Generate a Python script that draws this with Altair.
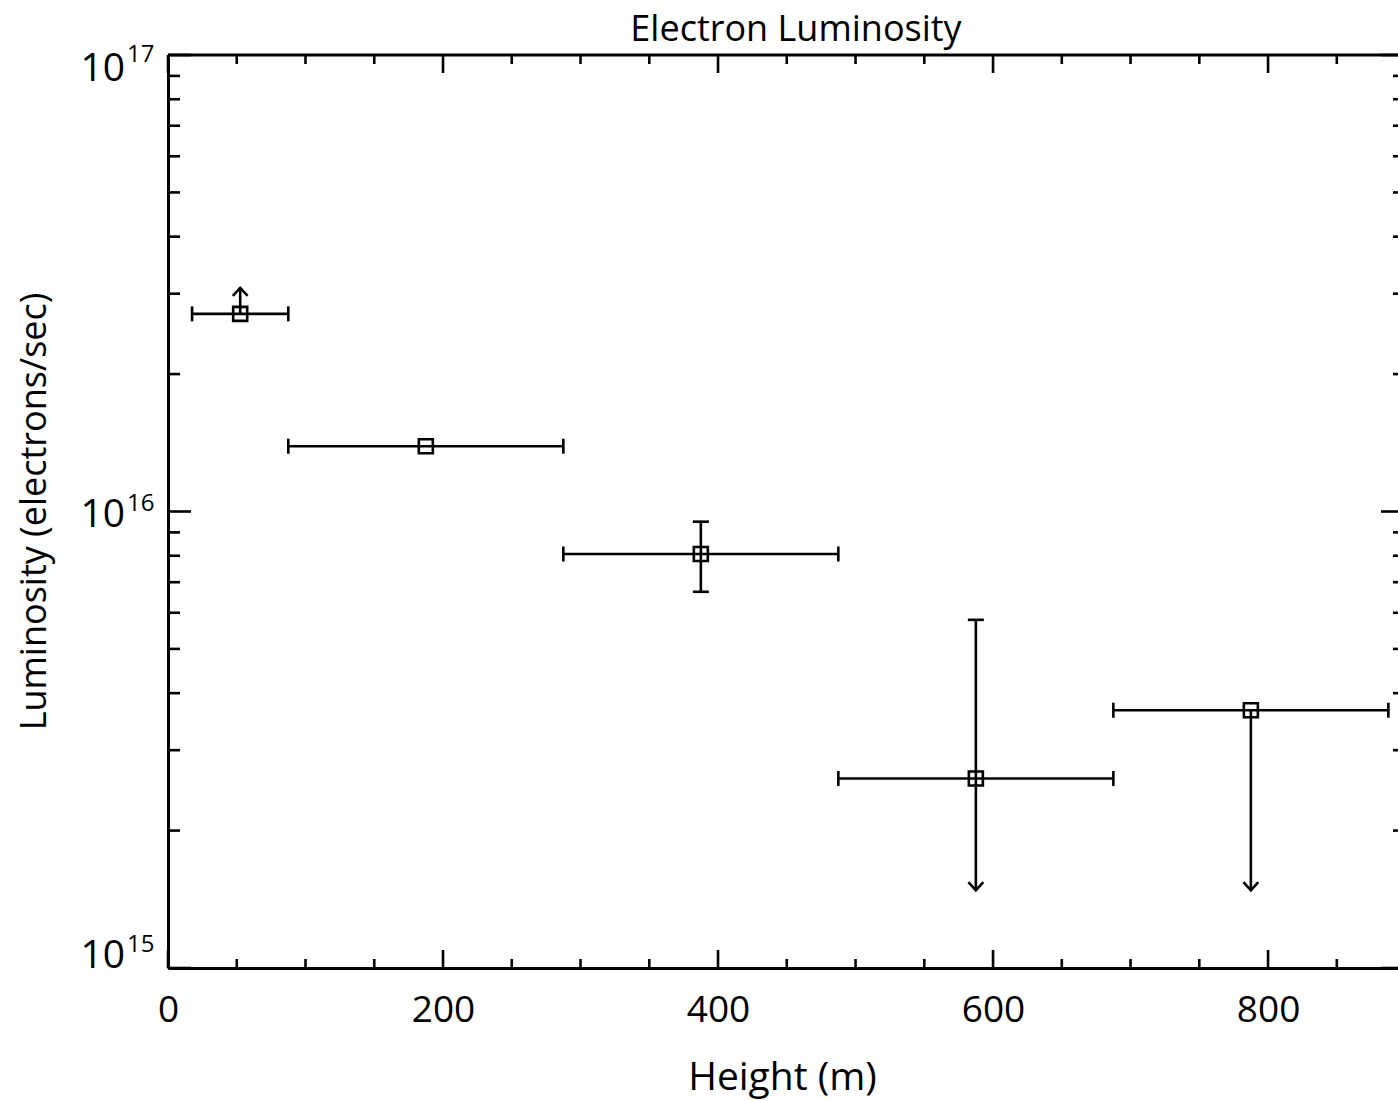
import altair as alt
import pandas as pd

# ---------------- data ----------------
chart_title = "Electron Luminosity"
x_title = "Height (m)"
y_title = "Luminosity (electrons/sec)"

height_m = [52.5, 187.5, 387.5, 587.5, 787.5]
height_lo = [17.5, 87.5, 287.5, 487.5, 687.5]
height_hi = [87.5, 287.5, 487.5, 687.5, 887.5]
lum = [2.71e16, 1.39e16, 8.07e15, 2.60e15, 3.67e15]
lum_lo = [2.71e16, 1.39e16, 6.67e15, 1.48e15, 1.48e15]
lum_hi = [3.09e16, 1.39e16, 9.50e15, 5.79e15, 3.67e15]
lower_limit = [True, False, False, False, False]   # arrow pointing up
upper_limit = [False, False, False, True, True]    # arrow pointing down

x_major = [0, 200, 400, 600, 800]
x_minor = [50, 100, 150, 250, 300, 350, 450, 500, 550, 650, 700, 750, 850]
y_major = [1e15, 1e16, 1e17]
y_base = ["10", "10", "10"]
y_exp = ["15", "16", "17"]
y_minor = [m * 1e15 for m in range(2, 10)] + [m * 1e16 for m in range(2, 10)]

# ---------------- layout / style ----------------
W, H = 1230, 913
FONT = "Open Sans"
LW = 2.6

xs = alt.Scale(domain=[0, 894.5], nice=False, zero=False)
ys = alt.Scale(type="log", domain=[1e15, 1e17], nice=False)

xax = alt.Axis(values=x_major, title=x_title, ticks=False, tickSize=0, grid=False,
               labelFontSize=37, labelFont=FONT, labelColor="black", labelPadding=24,
               labelFlush=False, domain=True, domainColor="black", domainWidth=3,
               titleFont=FONT, titleFontSize=39, titleFontWeight="normal", titleColor="black",
               titleX=614, titleY=121, titleBaseline="alphabetic", titleAlign="center")
yax = alt.Axis(values=y_major, title=y_title, ticks=False, tickSize=0, grid=False,
               labels=False, domain=True, domainColor="black", domainWidth=3,
               titleFont=FONT, titleFontSize=36, titleFontWeight="normal", titleColor="black",
               titleX=-123, titleY=456, titleBaseline="alphabetic", titleAlign="center",
               titleAngle=270)

pts = pd.DataFrame({"h": height_m, "h_lo": height_lo, "h_hi": height_hi,
                    "lum": lum, "lum_lo": lum_lo, "lum_hi": lum_hi,
                    "ll": lower_limit, "ul": upper_limit})

# horizontal bars
xbars = alt.Chart(pts).mark_rule(color="black", strokeWidth=LW).encode(
    x=alt.X("h_lo:Q", scale=xs, axis=xax), x2="h_hi:Q",
    y=alt.Y("lum:Q", scale=ys, axis=yax))

# vertical bars
vb = pts[pts["lum_lo"] != pts["lum_hi"]]
ybars = alt.Chart(vb).mark_rule(color="black", strokeWidth=LW).encode(
    x=alt.X("h:Q", scale=xs, axis=xax),
    y=alt.Y("lum_lo:Q", scale=ys, axis=yax), y2="lum_hi:Q")

# caps on horizontal bars
xc_rows = []
for i in range(len(height_m)):
    xc_rows.append({"x": height_lo[i], "y": lum[i]})
    xc_rows.append({"x": height_hi[i], "y": lum[i]})
xcaps = alt.Chart(pd.DataFrame(xc_rows)).mark_point(
    shape="M0,-1L0,1", size=225, stroke="black", strokeWidth=LW, filled=False, opacity=1).encode(
    x=alt.X("x:Q", scale=xs, axis=xax), y=alt.Y("y:Q", scale=ys, axis=yax))

# caps on vertical bars (only where not a limit)
yc_rows = []
for i in range(len(height_m)):
    if lum_hi[i] != lum[i] and not lower_limit[i]:
        yc_rows.append({"x": height_m[i], "y": lum_hi[i]})
    if lum_lo[i] != lum[i] and not upper_limit[i]:
        yc_rows.append({"x": height_m[i], "y": lum_lo[i]})
ycaps = alt.Chart(pd.DataFrame(yc_rows)).mark_point(
    shape="M-1,0L1,0", size=256, stroke="black", strokeWidth=LW, filled=False, opacity=1).encode(
    x=alt.X("x:Q", scale=xs, axis=xax), y=alt.Y("y:Q", scale=ys, axis=yax))

# arrow heads for limits
ar_rows = []
for i in range(len(height_m)):
    if lower_limit[i]:
        ar_rows.append({"x": height_m[i], "y": lum_hi[i], "shp": "M-1,1.1L0,0L1,1.1"})
    if upper_limit[i]:
        ar_rows.append({"x": height_m[i], "y": lum_lo[i], "shp": "M-1,-1.1L0,0L1,-1.1"})
arrows = alt.Chart(pd.DataFrame(ar_rows)).mark_point(
    size=220, stroke="black", strokeWidth=LW, filled=False, opacity=1).encode(
    x=alt.X("x:Q", scale=xs, axis=xax), y=alt.Y("y:Q", scale=ys, axis=yax),
    shape=alt.Shape("shp:N", scale=None))

# square markers
squares = alt.Chart(pts).mark_point(
    shape="square", size=196, stroke="black", strokeWidth=LW, filled=False, opacity=1).encode(
    x=alt.X("h:Q", scale=xs, axis=xax), y=alt.Y("lum:Q", scale=ys, axis=yax))

# inward ticks
xmaj = pd.DataFrame({"v": x_major})
xmin = pd.DataFrame({"v": x_minor})
ymaj = pd.DataFrame({"v": y_major})
ymin = pd.DataFrame({"v": y_minor})

def xticks(df, y0, y1):
    return alt.Chart(df).mark_rule(color="black", strokeWidth=LW).encode(
        x=alt.X("v:Q", scale=xs, axis=xax), y=alt.value(y0), y2=alt.value(y1))

def yticks(df, x0, x1):
    return alt.Chart(df).mark_rule(color="black", strokeWidth=LW).encode(
        y=alt.Y("v:Q", scale=ys, axis=yax), x=alt.value(x0), x2=alt.value(x1))

ticks = [
    xticks(xmaj, H, H - 18), xticks(xmin, H, H - 9),
    xticks(xmaj, 0, 18), xticks(xmin, 0, 9),
    yticks(ymaj, 0, 23), yticks(ymin, 0, 12),
    yticks(ymaj, W - 17, W), yticks(ymin, W - 5, W),
]

# y tick labels "10" with superscript exponent (flush at the ends like the reference)
base_dy = [-31, -16, -5]
exp_dy = [-35, -20, -12]
ylabels = []
for i in range(len(y_major)):
    d = pd.DataFrame({"v": [y_major[i]], "b": [y_base[i]], "e": [y_exp[i]]})
    ylabels.append(alt.Chart(d).mark_text(
        font=FONT, fontSize=39, color="black", align="right", baseline="top",
        dy=base_dy[i]).encode(
        y=alt.Y("v:Q", scale=ys, axis=yax), x=alt.value(-43), text="b:N"))
    ylabels.append(alt.Chart(d).mark_text(
        font=FONT, fontSize=24, color="black", align="left", baseline="top",
        dy=exp_dy[i]).encode(
        y=alt.Y("v:Q", scale=ys, axis=yax), x=alt.value(-41), text="e:N"))

top_frame = alt.Chart(pd.DataFrame({"a": [0]})).mark_rule(color="black", strokeWidth=3).encode(
    x=alt.value(0), x2=alt.value(W), y=alt.value(0))

chart = alt.layer(
    *ticks, top_frame, *ylabels, xbars, ybars, xcaps, ycaps, arrows, squares
).properties(
    width=W, height=H,
    title=alt.TitleParams(chart_title, font=FONT, fontSize=36, fontWeight="normal",
                          color="black", anchor="middle", baseline="alphabetic",
                          offset=16, dx=13, dy=50),
    autosize=alt.AutoSizeParams(type="none"),
    padding={"left": 168, "top": 55, "right": 0, "bottom": 133},
    background="white",
).configure_view(stroke=None)

chart.save("out.html", embed_options={"renderer": "svg", "actions": False})
